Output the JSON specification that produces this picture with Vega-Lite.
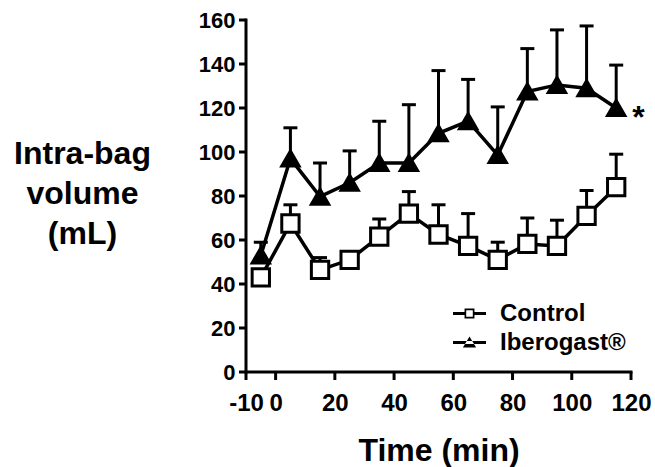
{
  "$schema": "https://vega.github.io/schema/vega-lite/v6.json",
  "width": 385,
  "height": 352,
  "autosize": "none",
  "padding": {"left": 246, "top": 20, "right": 24, "bottom": 95},
  "background": "white",
  "config": {
    "view": {"stroke": null},
    "font": "Liberation Sans"
  },
  "datasets": {
    "vol": [
      {"group": "Control", "time": -5, "mean": 43, "upper": 43},
      {"group": "Control", "time": 5, "mean": 67.5, "upper": 76},
      {"group": "Control", "time": 15, "mean": 46.4, "upper": 52},
      {"group": "Control", "time": 25, "mean": 51, "upper": 54},
      {"group": "Control", "time": 35, "mean": 61.5, "upper": 69.5},
      {"group": "Control", "time": 45, "mean": 72, "upper": 82},
      {"group": "Control", "time": 55, "mean": 62.5, "upper": 76},
      {"group": "Control", "time": 65, "mean": 57.3, "upper": 72},
      {"group": "Control", "time": 75, "mean": 51, "upper": 59},
      {"group": "Control", "time": 85, "mean": 58.2, "upper": 70},
      {"group": "Control", "time": 95, "mean": 57.3, "upper": 69},
      {"group": "Control", "time": 105, "mean": 71, "upper": 82.5},
      {"group": "Control", "time": 115, "mean": 84, "upper": 99},
      {"group": "Iberogast®", "time": -5, "mean": 53, "upper": 59},
      {"group": "Iberogast®", "time": 5, "mean": 97, "upper": 111},
      {"group": "Iberogast®", "time": 15, "mean": 79.7, "upper": 95},
      {"group": "Iberogast®", "time": 25, "mean": 86, "upper": 100.5},
      {"group": "Iberogast®", "time": 35, "mean": 95, "upper": 114},
      {"group": "Iberogast®", "time": 45, "mean": 95, "upper": 121.5},
      {"group": "Iberogast®", "time": 55, "mean": 108.5, "upper": 137},
      {"group": "Iberogast®", "time": 65, "mean": 114, "upper": 133},
      {"group": "Iberogast®", "time": 75, "mean": 98.6, "upper": 120.5},
      {"group": "Iberogast®", "time": 85, "mean": 127.5, "upper": 147},
      {"group": "Iberogast®", "time": 95, "mean": 130.5, "upper": 155.5},
      {"group": "Iberogast®", "time": 105, "mean": 129, "upper": 157.3},
      {"group": "Iberogast®", "time": 115, "mean": 120, "upper": 139.5, "sig": "*"}
    ],
    "xframe": [{"start": -10, "end": 120, "level": 0}],
    "yframe": [{"at": -10, "low": 0, "high": 160}],
    "xticks": [{"t": -10}, {"t": 0}, {"t": 20}, {"t": 40}, {"t": 60}, {"t": 80}, {"t": 100}, {"t": 120}],
    "yticks": [{"v": 0}, {"v": 20}, {"v": 40}, {"v": 60}, {"v": 80}, {"v": 100}, {"v": 120}, {"v": 140}, {"v": 160}]
  },
  "data": {"name": "vol"},
  "layer": [
    {
      "mark": {"type": "rule", "color": "black", "strokeWidth": 3},
      "encoding": {
        "x": {
          "field": "time",
          "type": "quantitative",
          "scale": {"domain": [-10, 120], "nice": false, "zero": false},
          "axis": {
            "domain": false,
            "ticks": false,
            "grid": false,
            "values": [-10, 0, 20, 40, 60, 80, 100, 120],
            "labelExpr": "'' + datum.value",
            "labelFont": "Liberation Sans",
            "labelFontWeight": "bold",
            "labelColor": "black",
            "labelFontSize": 24,
            "labelPadding": 19,
            "labelFlush": false,
            "title": "Time (min)",
            "titleFont": "Liberation Sans",
            "titleFontWeight": "bold",
            "titleFontSize": 32,
            "titleColor": "black",
            "titleBaseline": "alphabetic",
            "titleY": 88
          }
        },
        "y": {
          "field": "mean",
          "type": "quantitative",
          "scale": {"domain": [0, 160], "nice": false},
          "axis": {
            "domain": false,
            "ticks": false,
            "grid": false,
            "values": [0, 20, 40, 60, 80, 100, 120, 140, 160],
            "labelFont": "Liberation Sans",
            "labelFontWeight": "bold",
            "labelColor": "black",
            "labelFontSize": 22,
            "labelPadding": 11,
            "labelFlush": false,
            "title": ["Intra-bag", "volume", "(mL)"],
            "titleFont": "Liberation Sans",
            "titleFontWeight": "bold",
            "titleFontSize": 32,
            "titleColor": "black",
            "titleAngle": 0,
            "titleAlign": "center",
            "titleBaseline": "alphabetic",
            "titleX": -164,
            "titleY": 143,
            "titleLineHeight": 40
          }
        },
        "y2": {"field": "upper"}
      }
    },
    {
      "data": {"name": "xframe"},
      "mark": {"type": "rule", "color": "black", "strokeWidth": 3, "strokeCap": "square"},
      "encoding": {
        "x": {"field": "start", "type": "quantitative"},
        "x2": {"field": "end"},
        "y": {"field": "level", "type": "quantitative"}
      }
    },
    {
      "data": {"name": "yframe"},
      "mark": {"type": "rule", "color": "black", "strokeWidth": 3, "strokeCap": "square"},
      "encoding": {
        "x": {"field": "at", "type": "quantitative"},
        "y": {"field": "low", "type": "quantitative"},
        "y2": {"field": "high"}
      }
    },
    {
      "data": {"name": "xticks"},
      "mark": {"type": "tick", "color": "black", "orient": "vertical", "size": 8, "thickness": 3, "yOffset": 4, "opacity": 1},
      "encoding": {
        "x": {"field": "t", "type": "quantitative"},
        "y": {"datum": 0, "type": "quantitative"}
      }
    },
    {
      "data": {"name": "yticks"},
      "mark": {"type": "tick", "color": "black", "orient": "horizontal", "size": 7, "thickness": 3, "xOffset": -3.5, "opacity": 1},
      "encoding": {
        "x": {"datum": -10, "type": "quantitative"},
        "y": {"field": "v", "type": "quantitative"}
      }
    },
    {
      "mark": {"type": "tick", "color": "black", "thickness": 3, "size": 14, "orient": "horizontal", "opacity": 1},
      "encoding": {
        "x": {"field": "time", "type": "quantitative"},
        "y": {"field": "upper", "type": "quantitative"}
      }
    },
    {
      "mark": {"type": "line", "color": "black", "strokeWidth": 3.5},
      "encoding": {
        "x": {"field": "time", "type": "quantitative"},
        "y": {"field": "mean", "type": "quantitative"},
        "detail": {"field": "group"}
      }
    },
    {
      "mark": {"type": "point", "filled": false, "stroke": "black", "strokeWidth": 3, "size": 300, "opacity": 1},
      "encoding": {
        "x": {"field": "time", "type": "quantitative"},
        "y": {"field": "mean", "type": "quantitative"},
        "shape": {
          "field": "group",
          "type": "nominal",
          "scale": {"domain": ["Control", "Iberogast®"], "range": ["square", "triangle-up"]},
          "legend": null
        },
        "fill": {
          "field": "group",
          "type": "nominal",
          "scale": {"domain": ["Control", "Iberogast®"], "range": ["white", "black"]},
          "legend": null
        }
      }
    },
    {
      "transform": [{"filter": "datum.time > 1000"}],
      "mark": {"type": "point", "filled": true, "color": "black", "size": 1089, "opacity": 1},
      "encoding": {
        "x": {"field": "time", "type": "quantitative"},
        "y": {"field": "mean", "type": "quantitative"},
        "shape": {
          "field": "group",
          "type": "nominal",
          "scale": {
            "domain": ["Control", "Iberogast®"],
            "range": [
              "M-1,-0.09H-0.3V0.09H-1Z M0.3,-0.09H1V0.09H0.3Z M-0.3,-0.3H0.3V0.3H-0.3Z M-0.2,-0.2V0.2H0.2V-0.2Z",
              "M-1,-0.09H1V0.09H-1Z M-0.4,0.3L0.4,0.3L0,-0.36Z"
            ]
          },
          "legend": {
            "orient": "none",
            "legendX": 207,
            "legendY": 277,
            "title": null,
            "labelFontSize": 24,
            "labelFontWeight": "bold",
            "labelColor": "black",
            "labelFont": "Liberation Sans",
            "labelOffset": 14,
            "symbolSize": 1089,
            "symbolFillColor": "black",
            "symbolStrokeColor": "black",
            "symbolStrokeWidth": 0,
            "symbolOpacity": 1,
            "rowPadding": 0,
            "padding": 0
          }
        }
      }
    },
    {
      "transform": [{"filter": "datum.sig"}],
      "mark": {"type": "text", "color": "black", "fontSize": 32, "fontWeight": "bold", "align": "left", "baseline": "middle", "dx": 16, "dy": 10},
      "encoding": {
        "x": {"field": "time", "type": "quantitative"},
        "y": {"field": "mean", "type": "quantitative"},
        "text": {"field": "sig"}
      }
    }
  ],
  "resolve": {"scale": {"shape": "independent"}}
}
